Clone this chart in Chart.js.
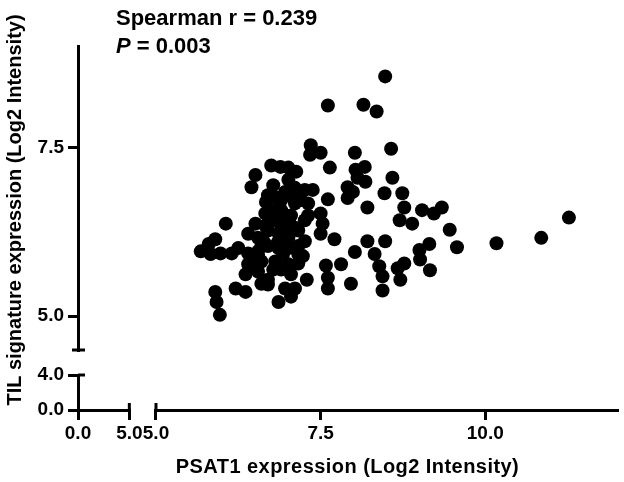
<!DOCTYPE html>
<html>
<head>
<meta charset="utf-8">
<script src="https://cdn.jsdelivr.net/npm/chart.js@4.4.1/dist/chart.umd.min.js"></script>
<style>
  html, body { margin: 0; padding: 0; background: #fff; }
  #wrap { width: 624px; height: 482px; }
</style>
</head>
<body>
<div id="wrap"><canvas id="c" width="624" height="482"></canvas></div>
<script>
// ---- data ----
const psat1 = [
  8.48, 7.61, 8.15, 8.35, 8.57, 7.35, 7.50, 7.34, 8.02, 7.64,
  6.75, 6.89, 7.01, 7.13, 6.51, 6.45, 8.17, 8.03, 8.06, 7.91,
  8.18, 7.99, 7.91, 8.59, 8.47, 8.74, 8.21, 7.61, 8.77, 8.70,
  8.89, 9.04, 9.22, 9.34, 9.46, 9.57, 9.15, 9.00, 9.16, 9.01,
  8.77, 8.67, 8.71, 8.48, 8.21, 8.32, 8.39, 8.44, 8.44, 8.02,
  7.81, 7.58, 7.61, 7.61, 7.96, 7.29, 7.71, 7.50, 7.53, 7.50,
  7.31, 7.26, 7.11, 6.96, 6.81, 6.67, 7.11, 6.90, 6.66, 6.66,
  6.81, 6.51, 6.40, 6.55, 6.90, 7.11, 7.26, 7.26, 6.06, 5.90,
  5.80, 5.68, 5.83, 5.98, 6.15, 6.25, 6.40, 6.55, 6.70, 6.86,
  7.01, 7.16, 6.40, 6.60, 6.81, 7.01, 6.36, 6.55, 6.70, 7.05,
  6.21, 6.36, 6.70, 6.96, 7.11, 6.86, 7.05, 5.90, 5.92, 5.97,
  10.17, 10.85, 11.27, 6.78, 7.01, 6.70, 7.01, 6.86, 6.60, 6.93,
  6.78, 7.16, 7.31, 6.75, 7.05, 6.55, 6.90, 7.16, 6.70, 7.38,
  7.01, 7.20, 7.05, 6.86, 7.16, 6.63, 7.16, 6.90, 6.60, 6.81,
  7.23, 6.51, 6.96
];
const tilSignature = [
  8.55, 8.12, 8.13, 8.03, 7.48, 7.53, 7.42, 7.39, 7.42, 7.20,
  7.23, 7.21, 7.20, 7.14, 7.09, 6.91, 7.21, 7.17, 7.05, 6.91,
  6.99, 6.84, 6.75, 7.05, 6.82, 6.82, 6.61, 6.73, 6.61, 6.42,
  6.37, 6.57, 6.52, 6.61, 6.28, 6.02, 6.07, 5.98, 5.68, 5.84,
  5.78, 5.71, 5.54, 6.11, 6.11, 5.92, 5.74, 5.59, 5.38, 5.95,
  5.77, 5.75, 5.57, 5.41, 5.48, 5.54, 6.14, 6.22, 6.37, 6.52,
  6.67, 6.87, 6.90, 6.84, 6.76, 6.69, 6.67, 6.57, 6.52, 6.34,
  6.42, 6.37, 6.22, 6.16, 6.27, 6.31, 6.42, 6.11, 6.37, 6.14,
  6.07, 5.96, 5.92, 5.93, 5.93, 6.01, 5.93, 5.96, 6.04, 6.01,
  6.01, 5.92, 5.77, 5.81, 5.81, 5.77, 5.62, 5.66, 5.54, 5.62,
  5.41, 5.36, 5.47, 5.41, 5.41, 5.21, 5.29, 5.36, 5.21, 5.02,
  6.08, 6.16, 6.46, 6.94, 7.02, 6.27, 6.16, 6.11, 6.04, 5.92,
  5.69, 5.78, 6.49, 6.57, 6.49, 5.89, 6.72, 6.79, 6.79, 6.87,
  6.79, 6.72, 6.34, 6.23, 6.27, 6.11, 6.04, 5.69, 5.48, 6.57,
  5.89, 5.74, 6.39
];

// broken-axis segments (value ranges) and tick labels
const xRangeLower = [0, 5];
const xRangeUpper = [5, 12];
const yRangeLower = [0, 4];
const yRangeUpper = [4.5, 9];
const xTicksLower = [0, 5];
const xTicksUpper = [5, 7.5, 10];
const yTicksLower = [0, 4];
const yTicksUpper = [5, 7.5];

const xTitle = 'PSAT1 expression (Log2 Intensity)';
const yTitle = 'TIL signature expression (Log2 Intensity)';
const statLine1 = 'Spearman r = 0.239';
const statP = 'P';
const statLine2 = ' = 0.003';

// ---- chart ----
const FONT = "'Liberation Sans', Arial, Helvetica, sans-serif";
Chart.defaults.font.family = FONT;
Chart.defaults.color = '#000';

const pts = psat1.map((v, i) => ({ x: v, y: tilSignature[i] }));

function fixedTicks(arr) {
  return (scale) => { scale.ticks = arr.map(v => ({ value: v })); };
}
const tickFont = { family: FONT, size: 19, weight: 'bold' };
const fmt = (v) => Number(v).toFixed(1);

function axisScale(axis, range, ticks, stack, stackWeight, weight, size, pos) {
  return {
    type: 'linear', axis: axis, position: pos,
    min: range[0], max: range[1],
    stack: stack, stackWeight: stackWeight, weight: weight,
    afterBuildTicks: fixedTicks(ticks),
    afterFit: (s) => {
      if (axis === 'x') s.height = size; else s.width = size;
      s.paddingLeft = 0; s.paddingRight = 0; s.paddingTop = 0; s.paddingBottom = 0;
    },
    grid: { display: true, drawOnChartArea: false, drawTicks: true, tickLength: 10, lineWidth: 3, color: '#000' },
    border: { display: true, width: 3, color: '#000' },
    ticks: { font: tickFont, color: '#000', padding: axis === 'x' ? 2 : 4, autoSkip: false, maxRotation: 0, minRotation: 0, callback: fmt }
  };
}
function gapScale(axis, pos, stack, stackWeight, weight) {
  return { type: 'linear', axis: axis, position: pos, display: false, stack: stack, stackWeight: stackWeight, weight: weight, min: 0, max: 1 };
}
function titleScale(axis, pos, text, stack, stackWeight, weight, size) {
  return {
    type: 'linear', axis: axis, position: pos, min: 0, max: 1,
    stack: stack, stackWeight: stackWeight, weight: weight,
    afterFit: (s) => {
      if (axis === 'x') s.height = size; else s.width = size;
      s.paddingLeft = 0; s.paddingRight = 0; s.paddingTop = 0; s.paddingBottom = 0;
    },
    grid: { display: false }, border: { display: false },
    ticks: { display: false },
    title: { display: true, text: text, color: '#000', font: { family: FONT, size: 20, weight: 'bold' }, padding: { top: 3, bottom: 3 } }
  };
}

// slight letter spacing on the x-axis title, as in the reference
const spacingPlugin = {
  id: 'titleSpacing',
  beforeLayout(chart) {
    const s = chart.scales.xTitleScale;
    if (s && !s._spaced) {
      const orig = s.draw.bind(s);
      s.draw = (area) => {
        const ctx = chart.ctx;
        ctx.save();
        ctx.letterSpacing = '0.45px';
        orig(area);
        ctx.restore();
      };
      s._spaced = true;
    }
  }
};

const capsPlugin = {
  id: 'caps',
  afterDraw(chart) {
    const { ctx, scales } = chart;
    const yU = scales.y, yL = scales.y0, xL = scales.x0, xU = scales.x;
    const axX = yU.right, axY = xL.top;
    ctx.save();
    ctx.strokeStyle = '#000';
    ctx.lineWidth = 3;
    ctx.lineCap = 'butt';
    const seg = (a, b, c, d) => { ctx.beginPath(); ctx.moveTo(a, b); ctx.lineTo(c, d); ctx.stroke(); };
    const yb = yU.getPixelForValue(yU.min);
    seg(axX - 6, yb, axX + 7, yb);
    const yt = yL.getPixelForValue(yL.max);
    seg(axX, yt, axX + 7, yt);
    const xe = xL.getPixelForValue(xL.max);
    seg(xe, axY - 7, xe, axY);
    const xs = xU.getPixelForValue(xU.min);
    seg(xs, axY - 7, xs, axY);
    ctx.restore();
  }
};

const statsPlugin = {
  id: 'stats',
  afterDraw(chart) {
    const ctx = chart.ctx;
    const left = chart.scales.x0.left + 38;
    ctx.save();
    ctx.fillStyle = '#000';
    ctx.textBaseline = 'alphabetic';
    ctx.textAlign = 'left';
    ctx.font = 'bold 22px ' + FONT;
    ctx.fillText(statLine1, left, 25);
    ctx.font = 'italic bold 22px ' + FONT;
    ctx.fillText(statP, left, 53);
    const w = ctx.measureText(statP).width;
    ctx.font = 'bold 22px ' + FONT;
    ctx.fillText(statLine2, left + w, 53);
    ctx.restore();
  }
};

new Chart(document.getElementById('c'), {
  type: 'scatter',
  data: {
    datasets: [{
      data: pts,
      xAxisID: 'x', yAxisID: 'y',
      pointRadius: 7, pointHoverRadius: 7,
      pointBackgroundColor: '#000', pointBorderWidth: 0, borderWidth: 0,
      clip: false
    }]
  },
  options: {
    responsive: false, animation: false, devicePixelRatio: 1,
    layout: { padding: { top: 46, right: 0, left: 0, bottom: 0 } },
    plugins: { legend: { display: false }, tooltip: { enabled: false } },
    events: [],
    scales: {
      x0: axisScale('x', xRangeLower, xTicksLower, 'xs', 52, 1, 40, 'bottom'),
      xGap: gapScale('x', 'bottom', 'xs', 27, 2),
      x: axisScale('x', xRangeUpper, xTicksUpper, 'xs', 467, 3, 40, 'bottom'),
      xTitleScale: titleScale('x', 'bottom', xTitle, undefined, 1, 10, 32),
      y: axisScale('y', yRangeUpper, yTicksUpper, 'ys', 304, 3, 48, 'left'),
      yGap: gapScale('y', 'left', 'ys', 25, 2),
      y0: axisScale('y', yRangeLower, yTicksLower, 'ys', 35, 1, 48, 'left'),
      yTitleScale: titleScale('y', 'left', yTitle, 'yt', 328, 10, 30),
      yTitlePad: gapScale('y', 'left', 'yt', 36, 9)
    }
  },
  plugins: [spacingPlugin, capsPlugin, statsPlugin]
});
</script>
</body>
</html>
